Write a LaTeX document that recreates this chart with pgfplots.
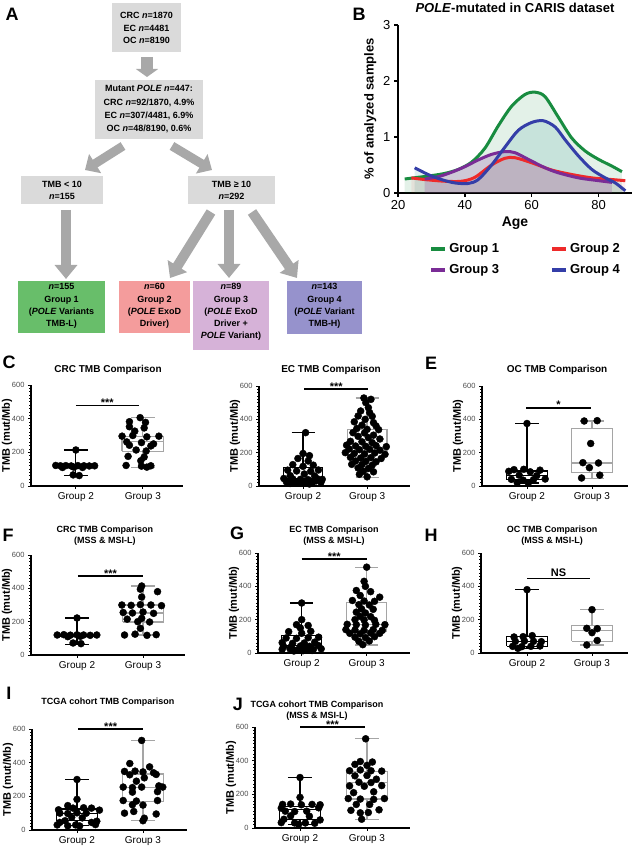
\documentclass[border=0pt]{standalone}
\usepackage{fontspec}
\setmainfont{Liberation Sans}
\usepackage{pgfplots}
\pgfplotsset{compat=1.18}
\usetikzlibrary{arrows.meta}

\definecolor{boxgray}{RGB}{218,218,218}
\definecolor{arrgray}{RGB}{168,168,168}
\definecolor{g1fill}{RGB}{104,190,106}
\definecolor{g2fill}{RGB}{244,156,156}
\definecolor{g3fill}{RGB}{214,178,216}
\definecolor{g4fill}{RGB}{150,146,204}
\definecolor{c1}{RGB}{24,140,64}
\definecolor{c2}{RGB}{238,42,42}
\definecolor{c3}{RGB}{122,44,150}
\definecolor{c4}{RGB}{52,62,168}
\definecolor{box3}{RGB}{165,165,165}

\newcommand{\fs}[1]{\fontsize{#1}{#1}\selectfont}

% box and whiskers at x=1 (Group 2) and x=2 (Group 3): style, low whisker, Q1, median, Q3, high whisker
\newcommand{\boxA}[6]{%
  \addplot[#1] coordinates {(0.69,#3) (1.31,#3) (1.31,#5) (0.69,#5) (0.69,#3)};
  \addplot[#1] coordinates {(0.69,#4) (1.31,#4)};
  \addplot[#1] coordinates {(1,#5) (1,#6)};
  \addplot[#1] coordinates {(0.82,#6) (1.18,#6)};
  \addplot[#1] coordinates {(1,#3) (1,#2)};
  \addplot[#1] coordinates {(0.82,#2) (1.18,#2)};
}
\newcommand{\boxB}[6]{%
  \addplot[#1] coordinates {(1.69,#3) (2.31,#3) (2.31,#5) (1.69,#5) (1.69,#3)};
  \addplot[#1] coordinates {(1.69,#4) (2.31,#4)};
  \addplot[#1] coordinates {(2,#5) (2,#6)};
  \addplot[#1] coordinates {(1.82,#6) (2.18,#6)};
  \addplot[#1] coordinates {(2,#3) (2,#2)};
  \addplot[#1] coordinates {(1.82,#2) (2.18,#2)};
}

\pgfplotsset{
  tmb/.style={
    scale only axis, clip=false,
    axis x line*=bottom, axis y line*=left,
    axis line style={line width=1.3pt},
    ymin=0, ymax=600, ytick={0,200,400,600}, minor y tick num=9,
    xtick={1,2}, xticklabels={Group 2,Group 3},
    tick align=outside, major tick length=3pt, minor tick length=1.6pt,
    tick style={black, line width=0.8pt},
    /pgf/number format/assume math mode=true,
    yticklabel style={font=\fs{7.5}, text=black!70},
    xticklabel style={font=\fs{10}},
    ylabel={TMB (mut/Mb)}, ylabel style={font=\bfseries\fs{11}}, ylabel shift=-7pt,
  },
  dots/.style={only marks, mark=*, mark size=3.5pt, black},
  b2/.style={draw=black, line width=1.2pt, solid, mark=none, line join=miter},
  b3/.style={draw=box3, line width=1.2pt, solid, mark=none, line join=miter},
}

\begin{document}
\begin{tikzpicture}
\useasboundingbox (0pt,0pt) rectangle (634pt,849pt);

% ---------- panel A (flowchart) and panel letters, y measured downwards
\begin{scope}[shift={(0pt,849pt)}, x=1pt, y=-1pt]
  \fill[boxgray] (112,3) rectangle (181,52);
  \fill[boxgray] (95,80) rectangle (203,139);
  \fill[boxgray] (21,176) rectangle (103,204);
  \fill[boxgray] (188,176) rectangle (275,204);
  \fill[g1fill] (18,281) rectangle (105,333);
  \fill[g2fill] (119,281) rectangle (190,333);
  \fill[g3fill] (193,281) rectangle (269,350);
  \fill[g4fill] (287,281) rectangle (362,334);

  \draw[arrgray, line width=12pt, -{Triangle[length=8pt,width=22pt]}] (147,57) -- (147,77);
  \draw[arrgray, line width=9pt, -{Triangle[length=12pt,width=22pt]}] (123,146) -- (85,170);
  \draw[arrgray, line width=9pt, -{Triangle[length=12pt,width=22pt]}] (172,146) -- (212,170);
  \draw[arrgray, line width=10pt, -{Triangle[length=14pt,width=22pt]}] (66,210) -- (66,279);
  \draw[arrgray, line width=10pt, -{Triangle[length=14pt,width=22pt]}] (211,212) -- (170,278);
  \draw[arrgray, line width=10pt, -{Triangle[length=14pt,width=22pt]}] (229,210) -- (229,278);
  \draw[arrgray, line width=10pt, -{Triangle[length=14pt,width=22pt]}] (252,212) -- (297,278);

  \begin{scope}[every node/.style={align=center, font=\bfseries\fontsize{9}{12.5}\selectfont}]
  \node at (146.5,28) {CRC \textit{n}=1870\\EC \textit{n}=4481\\OC \textit{n}=8190};
  \node[font=\bfseries\fontsize{9}{13.3}\selectfont] at (149,109.5) {Mutant \textit{POLE} \textit{n}=447:\\CRC \textit{n}=92/1870, 4.9\%\\EC \textit{n}=307/4481, 6.9\%\\OC \textit{n}=48/8190, 0.6\%};
  \node at (62,190.5) {TMB < 10\\\textit{n}=155};
  \node at (231.5,190.5) {TMB ≥ 10\\\textit{n}=292};
  \node[font=\bfseries\fontsize{9}{12.2}\selectfont] at (61.5,306) {\textit{n}=155\\Group 1\\(\textit{POLE} Variants\\TMB-L)};
  \node[font=\bfseries\fontsize{9}{12.2}\selectfont] at (154.5,306) {\textit{n}=60\\Group 2\\(\textit{POLE} ExoD\\Driver)};
  \node[font=\bfseries\fontsize{9}{12.2}\selectfont] at (231,312) {\textit{n}=89\\Group 3\\(\textit{POLE} ExoD\\Driver +\\\textit{POLE} Variant)};
  \node[font=\bfseries\fontsize{9}{12.2}\selectfont] at (324.5,306) {\textit{n}=143\\Group 4\\(\textit{POLE} Variant\\TMB-H)};
  \end{scope}

  \begin{scope}[every node/.style={font=\bfseries\fs{18}}]
  \node at (12,14) {A};
  \node at (359,14) {B};
  \node at (9,362) {C};
  \node at (431,363) {E};
  \node at (8,535) {F};
  \node at (237,533) {G};
  \node at (431,535) {H};
  \node at (9,693) {I};
  \node at (238,704) {J};
  \end{scope}
\end{scope}

% ---------- panel B
\begin{axis}[
  at={(398pt,656pt)}, anchor=south west, scale only axis, width=234pt, height=168pt, clip=false,
  xmin=20, xmax=90, ymin=0, ymax=3,
  axis x line*=bottom, axis y line*=left, axis line style={line width=2pt},
  xtick={20,40,60,80}, ytick={0,1,2,3},
  tick align=outside, major tick length=4pt, tick style={line width=1.5pt, black},
  ticklabel style={font=\fs{13}},
  /pgf/number format/assume math mode=true,
  xlabel={Age}, xlabel style={font=\bfseries\fs{14}},
  ylabel={\% of analyzed samples}, ylabel style={font=\bfseries\fs{13}},
  legend columns=2,
  legend style={at={(0.12,-0.274)}, anchor=north west, draw=none, fill=none,
    font=\bfseries\fs{13}, row sep=7pt, /tikz/every even column/.append style={column sep=49pt}},
  legend cell align=left,
  legend image code/.code={\draw[#1, line width=4pt] (0pt,0pt) -- (14pt,0pt);},
]
\addplot[draw=none, fill=c1, fill opacity=0.12, smooth, forget plot] coordinates {(22,0.25) (26,0.28) (30,0.31) (34,0.35) (38,0.42) (42,0.55) (46,0.80) (50,1.20) (54,1.55) (58,1.76) (61,1.80) (64,1.72) (68,1.35) (72,0.98) (76,0.75) (80,0.60) (84,0.48) (87,0.38)} \closedcycle;
\addplot[draw=none, fill=teal, fill opacity=0.12, smooth, forget plot] coordinates {(25,0.45) (29,0.33) (33,0.24) (37,0.18) (41,0.17) (44,0.24) (48,0.50) (52,0.82) (56,1.12) (60,1.26) (63.5,1.29) (67,1.18) (70,0.95) (74,0.66) (78,0.42) (82,0.27) (85,0.18) (88,0.04)} \closedcycle;
\addplot[draw=none, fill=c3, fill opacity=0.2, smooth, forget plot] coordinates {(28,0.25) (32,0.29) (36,0.37) (40,0.47) (44,0.59) (48,0.69) (52,0.74) (55,0.72) (59,0.60) (64,0.45) (68,0.36) (74,0.27) (80,0.22) (84,0.19)} \closedcycle;
\addplot[draw=none, fill=c2, fill opacity=0.08, smooth, forget plot] coordinates {(24,0.27) (28,0.24) (34,0.21) (39,0.21) (43,0.28) (48,0.50) (52,0.62) (55,0.63) (60,0.54) (66,0.41) (72,0.33) (78,0.27) (84,0.24) (88,0.22)} \closedcycle;
\addplot[c1, line width=3pt, smooth] coordinates {(22,0.25) (26,0.28) (30,0.31) (34,0.35) (38,0.42) (42,0.55) (46,0.80) (50,1.20) (54,1.55) (58,1.76) (61,1.80) (64,1.72) (68,1.35) (72,0.98) (76,0.75) (80,0.60) (84,0.48) (87,0.38)};
\addlegendentry{Group 1}
\addplot[c2, line width=3pt, smooth] coordinates {(24,0.27) (28,0.24) (34,0.21) (39,0.21) (43,0.28) (48,0.50) (52,0.62) (55,0.63) (60,0.54) (66,0.41) (72,0.33) (78,0.27) (84,0.24) (88,0.22)};
\addlegendentry{Group 2}
\addplot[c3, line width=3pt, smooth] coordinates {(28,0.25) (32,0.29) (36,0.37) (40,0.47) (44,0.59) (48,0.69) (52,0.74) (55,0.72) (59,0.60) (64,0.45) (68,0.36) (74,0.27) (80,0.22) (84,0.19)};
\addlegendentry{Group 3}
\addplot[c4, line width=3pt, smooth] coordinates {(25,0.45) (29,0.33) (33,0.24) (37,0.18) (41,0.17) (44,0.24) (48,0.50) (52,0.82) (56,1.12) (60,1.26) (63.5,1.29) (67,1.18) (70,0.95) (74,0.66) (78,0.42) (82,0.27) (85,0.18) (88,0.04)};
\addlegendentry{Group 4}
\node[font=\bfseries\fs{13}] at (rel axis cs:0.5,1.105) {\textit{POLE}-mutated in CARIS dataset};
\end{axis}

% ---------- C: CRC
\begin{axis}[tmb, at={(31pt,363pt)}, anchor=south west, width=152pt, height=101pt, xmin=0.33, xmax=2.6]
\boxA{b2}{62}{110}{118}{125}{214}
\boxB{b3}{112}{205}{262}{292}{406}
\addplot[dots] coordinates {(1.00,214) (0.70,122) (0.77,120) (0.85,121) (0.93,119) (1.03,121) (1.12,120) (1.20,119) (1.28,120) (0.80,110) (0.97,112) (1.10,110) (0.96,66) (1.05,62)};
\addplot[dots] coordinates {(1.96,406) (1.80,382) (2.04,378) (1.80,352) (2.02,345) (1.69,296) (1.85,300) (2.06,292) (2.24,296) (1.76,262) (1.98,258) (2.16,250) (1.80,242) (2.12,238) (1.90,214) (2.05,208) (1.78,176) (2.02,172) (1.97,150) (1.75,122) (1.98,118) (2.12,120) (2.06,112) (1.88,326)};
\draw[line width=1.3pt] (axis cs:1,478) -- (axis cs:1.94,478) node[midway, anchor=base, inner sep=0pt, yshift=-1pt, font=\bfseries\fs{11}] {***};
\node[font=\bfseries\fs{10}] at (rel axis cs:0.507,1.149) {CRC TMB Comparison};
\end{axis}

% ---------- D: EC
\begin{axis}[tmb, at={(259pt,363pt)}, anchor=south west, width=151pt, height=100pt, xmin=0.3125, xmax=2.67]
\boxA{b2}{12}{30}{42}{112}{320}
\boxB{b3}{52}{215}{232}{338}{528}
\addplot[dots] coordinates {(1.04,320) (1.00,195) (1.10,182) (0.92,165) (1.08,150) (0.84,128) (1.16,125) (1.00,118) (0.76,95) (0.90,90) (1.12,88) (1.24,96) (1.02,72) (0.80,62) (1.18,60) (0.70,45) (0.84,42) (0.96,40) (1.08,38) (1.22,44) (1.30,40) (0.74,25) (0.88,22) (1.00,20) (1.14,24) (1.28,22) (0.94,30) (1.20,30) (0.80,15) (1.10,12)};
\addplot[dots] coordinates {(1.95,528) (2.06,520) (1.98,500) (2.02,470) (1.90,450) (2.04,440) (1.86,420) (2.08,418) (1.97,400) (1.80,385) (2.10,380) (1.92,365) (2.14,360) (1.84,345) (2.00,340) (2.18,338) (1.78,320) (1.96,318) (2.10,305) (1.86,298) (2.02,290) (2.20,282) (1.74,268) (1.92,265) (2.08,260) (1.68,245) (1.82,240) (1.98,238) (2.14,242) (2.30,236) (1.72,222) (1.88,218) (2.04,220) (2.20,215) (1.66,200) (1.80,195) (1.96,192) (2.12,198) (2.28,190) (1.74,172) (1.90,168) (2.06,170) (2.22,165) (1.82,150) (1.98,148) (2.14,145) (1.76,130) (1.92,128) (2.08,125) (1.86,108) (2.02,105) (1.94,88) (2.10,85) (1.88,70) (2.00,55)};
\draw[line width=1.3pt] (axis cs:1.02,582) -- (axis cs:2.02,582) node[midway, anchor=base, inner sep=0pt, yshift=-1pt, font=\bfseries\fs{11}] {***};
\node[font=\bfseries\fs{10}] at (rel axis cs:0.477,1.16) {EC TMB Comparison};
\end{axis}

% ---------- E: OC
\begin{axis}[tmb, at={(482pt,363pt)}, anchor=south west, width=146pt, height=100pt, xmin=0.308, xmax=2.554]
\boxA{b2}{18}{38}{62}{90}{375}
\boxB{b3}{45}{80}{138}{345}{390}
\addplot[dots] coordinates {(1.00,375) (0.80,98) (0.95,100) (1.20,95) (0.72,88) (1.05,85) (0.88,65) (1.15,62) (0.76,40) (0.94,35) (1.10,38) (1.28,42) (0.85,20) (1.02,18)};
\addplot[dots] coordinates {(1.88,390) (2.08,392) (1.98,255) (1.86,140) (2.10,138) (1.96,110) (2.12,65) (1.84,48)};
\draw[line width=1.3pt] (axis cs:0.985,468) -- (axis cs:1.985,468) node[midway, anchor=base, inner sep=0pt, yshift=-1pt, font=\bfseries\fs{11}] {*};
\node[font=\bfseries\fs{10}] at (rel axis cs:0.514,1.16) {OC TMB Comparison};
\end{axis}

% ---------- F: CRC MSS
\begin{axis}[tmb, at={(31pt,194pt)}, anchor=south west, width=154pt, height=100pt, xmin=0.303, xmax=2.636]
\boxA{b2}{62}{110}{118}{125}{222}
\boxB{b3}{120}{198}{252}{300}{414}
\addplot[dots] coordinates {(1.00,222) (0.70,120) (0.80,122) (0.90,119) (1.00,121) (1.10,120) (1.20,118) (1.30,120) (0.86,110) (1.05,112) (0.94,72) (1.06,68)};
\addplot[dots] coordinates {(1.98,414) (1.96,395) (2.22,380) (1.98,348) (1.68,300) (1.82,298) (1.96,302) (2.12,300) (2.28,296) (1.70,255) (1.84,252) (2.00,258) (2.16,250) (1.76,215) (1.98,220) (1.92,200) (2.10,198) (1.96,160) (1.72,120) (1.88,125) (2.06,118) (2.20,122)};
\draw[line width=1.3pt] (axis cs:1.015,474) -- (axis cs:2.0,474) node[midway, anchor=base, inner sep=0pt, yshift=-1pt, font=\bfseries\fs{11}] {***};
\node[font=\bfseries\fontsize{9}{11}\selectfont, align=center] at (rel axis cs:0.48,1.19) {CRC TMB Comparison\\(MSS \& MSI-L)};
\end{axis}

% ---------- G: EC MSS
\begin{axis}[tmb, at={(258pt,196pt)}, anchor=south west, width=152pt, height=100pt, xmin=0.328, xmax=2.666]
\boxA{b2}{12}{35}{45}{105}{300}
\boxB{b3}{48}{130}{170}{303}{515}
\addplot[dots] coordinates {(1.00,300) (1.00,200) (0.92,170) (1.10,165) (0.98,150) (0.80,128) (1.14,130) (1.00,118) (0.76,90) (0.92,88) (1.10,92) (1.26,95) (0.70,62) (0.86,58) (1.04,60) (1.20,65) (0.72,40) (0.84,38) (0.98,42) (1.12,40) (1.26,44) (0.70,22) (0.82,25) (0.94,20) (1.06,24) (1.18,22) (1.30,25) (0.88,12) (1.02,14) (1.16,15)};
\addplot[dots] coordinates {(2.00,515) (1.96,430) (1.98,400) (1.84,375) (2.06,368) (1.90,345) (2.20,335) (1.78,315) (1.96,312) (2.12,310) (1.88,290) (2.04,288) (1.92,265) (2.10,262) (1.84,245) (1.98,240) (1.90,220) (2.06,218) (1.82,200) (1.96,198) (2.12,196) (1.70,172) (1.84,170) (1.98,168) (2.14,172) (2.28,170) (1.68,140) (1.82,138) (1.96,136) (2.10,140) (2.24,136) (1.74,118) (1.90,115) (2.06,120) (2.20,118) (1.82,95) (1.98,92) (2.12,98) (1.88,70) (2.04,72) (1.94,50)};
\draw[line width=1.3pt] (axis cs:1.0,564) -- (axis cs:2.0,564) node[midway, anchor=base, inner sep=0pt, yshift=-1pt, font=\bfseries\fs{11}] {***};
\node[font=\bfseries\fontsize{9}{11}\selectfont, align=center] at (rel axis cs:0.5,1.17) {EC TMB Comparison\\(MSS \& MSI-L)};
\end{axis}

% ---------- H: OC MSS
\begin{axis}[tmb, at={(481pt,196pt)}, anchor=south west, width=147pt, height=100pt, xmin=0.292, xmax=2.554]
\boxA{b2}{28}{40}{70}{100}{380}
\boxB{b3}{48}{70}{134}{166}{260}
\addplot[dots] coordinates {(1.00,380) (0.80,96) (0.94,98) (1.08,104) (0.82,70) (0.96,72) (1.10,70) (1.22,68) (0.78,40) (0.92,38) (1.06,40) (1.20,42) (0.86,28)};
\addplot[dots] coordinates {(2.00,260) (1.92,148) (2.08,146) (2.00,122) (2.08,75) (1.92,48)};
\draw[line width=1.3pt] (axis cs:1.0,445) -- (axis cs:1.97,445) node[midway, anchor=base, inner sep=0pt, yshift=2.5pt, font=\bfseries\fs{11}] {NS};
\node[font=\bfseries\fontsize{9}{11}\selectfont, align=center] at (rel axis cs:0.483,1.17) {OC TMB Comparison\\(MSS \& MSI-L)};
\end{axis}

% ---------- I: TCGA
\begin{axis}[tmb, at={(32pt,19pt)}, anchor=south west, width=155pt, height=101pt, xmin=0.318, xmax=2.667]
\boxA{b2}{25}{55}{100}{125}{300}
\boxB{b3}{55}{168}{252}{333}{532}
\addplot[dots] coordinates {(1.00,300) (1.00,182) (0.86,145) (0.94,130) (1.10,132) (1.22,130) (0.72,120) (1.34,118) (0.74,100) (0.86,98) (1.00,102) (1.14,100) (0.92,75) (1.08,72) (0.82,55) (1.30,52) (0.74,45) (1.22,45) (0.70,30) (0.98,30) (1.28,32) (0.86,25) (1.04,24)};
\addplot[dots] coordinates {(1.98,532) (1.80,395) (2.10,375) (1.72,348) (1.88,350) (2.00,345) (2.16,340) (1.80,328) (2.20,330) (2.02,310) (1.90,290) (2.24,262) (1.70,255) (1.84,252) (1.98,255) (2.30,255) (1.84,225) (2.22,228) (1.70,175) (1.90,172) (2.22,175) (1.84,150) (2.00,148) (1.86,110) (1.72,100) (2.20,95) (2.02,70) (2.00,55)};
\draw[line width=1.3pt] (axis cs:1.02,600) -- (axis cs:2.0,600) node[midway, anchor=base, inner sep=0pt, yshift=-1pt, font=\bfseries\fs{11}] {***};
\node[font=\bfseries\fs{9}] at (rel axis cs:0.49,1.267) {TCGA cohort TMB Comparison};
\end{axis}

% ---------- J: TCGA MSS
\begin{axis}[tmb, at={(255pt,21pt)}, anchor=south west, width=155pt, height=101pt, xmin=0.328, xmax=2.642]
\boxA{b2}{22}{50}{110}{128}{300}
\boxB{b3}{52}{172}{270}{336}{530}
\addplot[dots] coordinates {(1.00,300) (1.00,182) (0.74,140) (0.86,142) (1.02,138) (1.18,140) (1.30,138) (0.72,118) (1.28,120) (0.78,100) (0.92,98) (1.10,100) (0.86,72) (1.14,70) (0.76,52) (1.30,48) (0.72,32) (0.92,30) (1.08,30) (1.22,28) (0.98,22)};
\addplot[dots] coordinates {(1.98,530) (1.90,395) (2.08,392) (1.82,378) (2.00,372) (1.74,340) (1.90,345) (2.06,340) (2.22,338) (1.82,310) (2.00,312) (2.14,290) (1.88,272) (2.06,270) (1.74,250) (1.96,248) (2.22,252) (1.80,210) (2.10,215) (1.72,175) (1.90,172) (2.10,170) (2.26,175) (1.84,140) (2.04,140) (1.76,105) (2.18,108) (1.90,90) (2.02,92) (1.92,52)};
\draw[line width=1.3pt] (axis cs:1.0,600) -- (axis cs:1.97,600) node[midway, anchor=base, inner sep=0pt, yshift=-1pt, font=\bfseries\fs{11}] {***};
\node[font=\bfseries\fontsize{9}{11}\selectfont, align=center] at (rel axis cs:0.40,1.163) {TCGA cohort TMB Comparison\\(MSS \& MSI-L)};
\end{axis}
\end{tikzpicture}
\end{document}
